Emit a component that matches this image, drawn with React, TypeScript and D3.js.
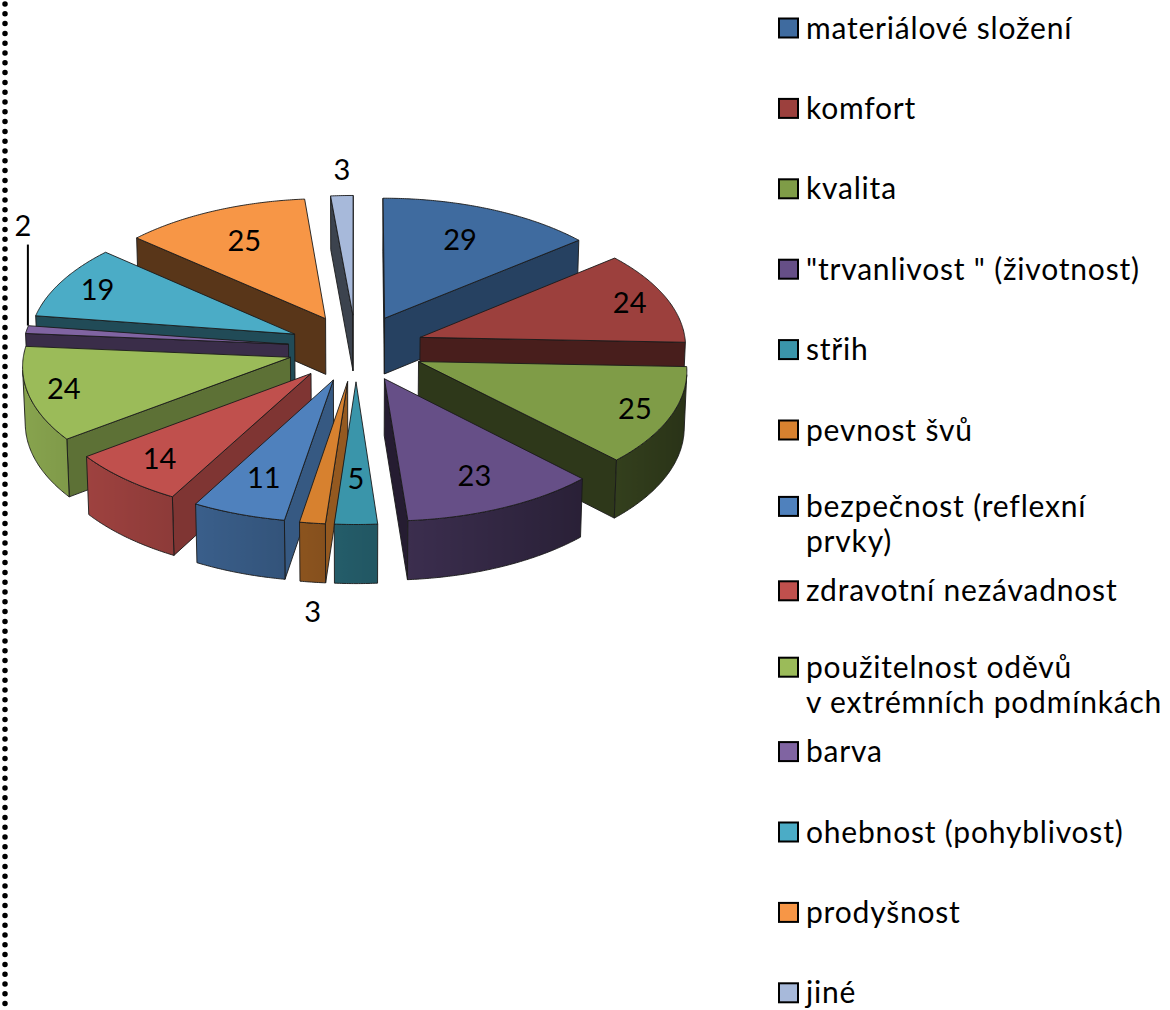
import React from "react";
import * as d3 from "d3";

// values (počet odpovědí)
const categories = [
  "materiálové složení",
  "komfort",
  "kvalita",
  "\"trvanlivost \" (životnost)",
  "střih",
  "pevnost švů",
  "bezpečnost (reflexní prvky)",
  "zdravotní nezávadnost",
  "použitelnost oděvů v extrémních podmínkách",
  "barva",
  "ohebnost (pohyblivost)",
  "prodyšnost",
  "jiné",
];
const values = [29, 24, 25, 23, 5, 3, 11, 14, 24, 2, 19, 25, 3];
const colors = [
  "#3f6b9f", "#9c403d", "#7f9c47", "#664f87", "#3a95aa", "#d7812f",
  "#4f81bd", "#c0504d", "#9bbb59", "#8064a2", "#4bacc6", "#f79646", "#a7b9da",
];
// legend text, wrapped the same way as in the original
const legendLines = [
  ["materiálové složení"],
  ["komfort"],
  ["kvalita"],
  ["\"trvanlivost \" (životnost)"],
  ["střih"],
  ["pevnost švů"],
  ["bezpečnost (reflexní", "prvky)"],
  ["zdravotní nezávadnost"],
  ["použitelnost oděvů", "v extrémních podmínkách"],
  ["barva"],
  ["ohebnost (pohyblivost)"],
  ["prodyšnost"],
  ["jiné"],
];

const W = 1170;
const H = 1010;
const CX = 356;
const CY = 348;
const R = 266; // pie radius
const EXPLODE = 68; // how far every slice is pulled out
const DEPTH = 65; // thickness of the pie
const SIN_T = 0.49; // tilt of the view
const COS_T = Math.sqrt(1 - SIN_T * SIN_T);
const CAM = 4000; // camera distance (perspective)
const FONT = "Lato, 'Open Sans', sans-serif";

// x right, z towards viewer, y up
function project(x: number, z: number, y: number): [number, number] {
  const s = CAM / (CAM - (z * COS_T + y * SIN_T));
  return [CX + x * s, CY + (z * SIN_T - y * COS_T) * s];
}
const cam = { x: 0, y: CAM * SIN_T, z: CAM * COS_T };
const facing = (nx: number, nz: number, px: number, pz: number) =>
  nx * (cam.x - px) + nz * (cam.z - pz) > 0;

const shade = (c: string, k: number) => {
  const r = d3.rgb(c);
  return d3.rgb(r.r * k, r.g * k, r.b * k).formatHex();
};
const outerShade = (t: number) => 0.6 - 0.28 * Math.sin(t);
const sideShade = (nx: number) => Math.max(0.36, Math.min(0.75, 0.47 + 0.22 * nx));

const line = d3.line();
const STROKE = "#1a1a1a";

const App = () => {
  const total = d3.sum(values);
  const arcs = d3.pie<number>().sort(null).value((d) => d)(values);

  const slices = arcs.map((a, i) => {
    const mid = (a.startAngle + a.endAngle) / 2;
    const ox = EXPLODE * Math.sin(mid);
    const oz = -EXPLODE * Math.cos(mid);
    const n = Math.max(2, Math.ceil((a.endAngle - a.startAngle) / (Math.PI / 360)));
    const rim = d3.range(n + 1).map((k) => {
      const t = a.startAngle + ((a.endAngle - a.startAngle) * k) / n;
      return { t, x: ox + R * Math.sin(t), z: oz - R * Math.cos(t) };
    });
    const apexTop = project(ox, oz, 0);
    const apexBot = project(ox, oz, -DEPTH);
    const top = line([apexTop, ...rim.map((p) => project(p.x, p.z, 0))]) + "Z";

    const faces: { d: string; fill: string; grad?: any }[] = [];
    // radial cut faces
    const radial = (t: number, sign: number) => {
      const nt = t + (sign * Math.PI) / 2;
      const nx = Math.sin(nt);
      const nz = -Math.cos(nt);
      if (!facing(nx, nz, ox, oz)) return;
      const px = ox + R * Math.sin(t);
      const pz = oz - R * Math.cos(t);
      const d =
        line([apexTop, project(px, pz, 0), project(px, pz, -DEPTH), apexBot]) + "Z";
      faces.push({ d, fill: shade(colors[i], sideShade(nx)) });
    };
    radial(a.startAngle, -1);
    radial(a.endAngle, 1);

    // outer curved face, only the part turned to the viewer
    const vis = rim.map((p) => facing(Math.sin(p.t), -Math.cos(p.t), p.x, p.z));
    let run: typeof rim = [];
    const flush = () => {
      if (run.length >= 2) {
        const tops = run.map((p) => project(p.x, p.z, 0));
        const bots = run.map((p) => project(p.x, p.z, -DEPTH)).reverse();
        const xs = tops.map((p) => p[0]);
        const x0 = d3.min(xs)!;
        const x1 = d3.max(xs)!;
        const stops = run.map((p, k) => ({
          off: x1 - x0 > 0 ? (xs[k] - x0) / (x1 - x0) : 0,
          c: shade(colors[i], outerShade(p.t)),
        }));
        stops.sort((u, v) => u.off - v.off);
        faces.push({
          d: line([...tops, ...bots]) + "Z",
          fill: "",
          grad: { id: `g${i}_${faces.length}`, x0, x1, stops },
        });
      }
      run = [];
    };
    rim.forEach((p, k) => {
      if (vis[k]) run.push(p);
      else flush();
    });
    flush();

    // label
    const share = a.value / total;
    const px = ox + R * Math.sin(mid);
    const pz = oz - R * Math.cos(mid);
    const [tx, ty] = project(px, pz, 0);
    let label: { x: number; y: number; leader?: [number, number][] };
    if (share > 0.02) {
      // pull the label in from the rim, in screen space
      const dx = tx - apexTop[0];
      const dy = ty - apexTop[1];
      const len = Math.hypot(dx, dy);
      const inset = 34 + 12 * Math.abs(dy / len);
      label = { x: tx - (dx / len) * inset, y: ty - (dy / len) * inset };
    } else {
      const zd = -Math.cos(mid);
      if (zd > 0.5) {
        const [bx, by] = project(px, pz, -DEPTH);
        label = { x: bx, y: by + 30 };
      } else if (zd < -0.5) {
        label = { x: tx, y: ty - 26 };
      } else {
        label = {
          x: tx - 4,
          y: ty - 104,
          leader: [
            [tx + 1, ty - 4],
            [tx + 1, ty - 85],
          ],
        };
      }
    }
    return { i, mid, top, faces, label, value: a.value };
  });

  const order = [...slices].sort((p, q) => -Math.cos(p.mid) - -Math.cos(q.mid));
  const legendStep = 80.4;

  return (
    <svg
      width={W}
      height={H}
      style={{ position: "absolute", left: 0, top: 0, background: "#fff" }}
      fontFamily={FONT}
    >
      <defs>
        {slices.flatMap((s) =>
          s.faces
            .filter((f) => f.grad)
            .map((f) => (
              <linearGradient
                key={f.grad.id}
                id={f.grad.id}
                gradientUnits="userSpaceOnUse"
                x1={f.grad.x0}
                x2={f.grad.x1}
                y1={0}
                y2={0}
              >
                {f.grad.stops.map((st: any, k: number) => (
                  <stop key={k} offset={st.off} stopColor={st.c} />
                ))}
              </linearGradient>
            ))
        )}
      </defs>

      {/* dotted separator on the left */}
      <line
        x1={5}
        x2={5}
        y1={4}
        y2={H}
        stroke="#000"
        strokeWidth={5.5}
        strokeLinecap="round"
        strokeDasharray="0 9.8"
      />

      {order.map((s) => (
        <g key={s.i}>
          {s.faces.map((f, k) => (
            <path
              key={k}
              d={f.d}
              fill={f.grad ? `url(#${f.grad.id})` : f.fill}
              stroke={STROKE}
              strokeWidth={0.9}
              strokeLinejoin="round"
            />
          ))}
          <path d={s.top} fill={colors[s.i]} stroke={STROKE} strokeWidth={0.9} strokeLinejoin="round" />
        </g>
      ))}

      {slices.map((s) => (
        <g key={"l" + s.i}>
          {s.label.leader && (
            <path d={line(s.label.leader)!} stroke="#000" strokeWidth={2} fill="none" />
          )}
          <text
            x={s.label.x}
            y={s.label.y}
            dy="0.35em"
            textAnchor="middle"
            fontSize={29}
            fill="#000"
          >
            {s.value}
          </text>
        </g>
      ))}

      {legendLines.map((lines, i) => {
        const yc = 28 + i * legendStep + (lines.length > 1 ? -4 : 0);
        return (
          <g key={"lg" + i}>
            <rect
              x={779}
              y={yc - 9.5}
              width={19}
              height={19}
              fill={colors[i]}
              stroke="#000"
              strokeWidth={2}
            />
            {lines.map((t, k) => (
              <text
                key={k}
                x={806}
                y={yc + k * 35}
                dy="0.35em"
                fontSize={30}
                letterSpacing={0.8}
                fill="#000"
              >
                {t}
              </text>
            ))}
          </g>
        );
      })}
    </svg>
  );
};

export default App;
